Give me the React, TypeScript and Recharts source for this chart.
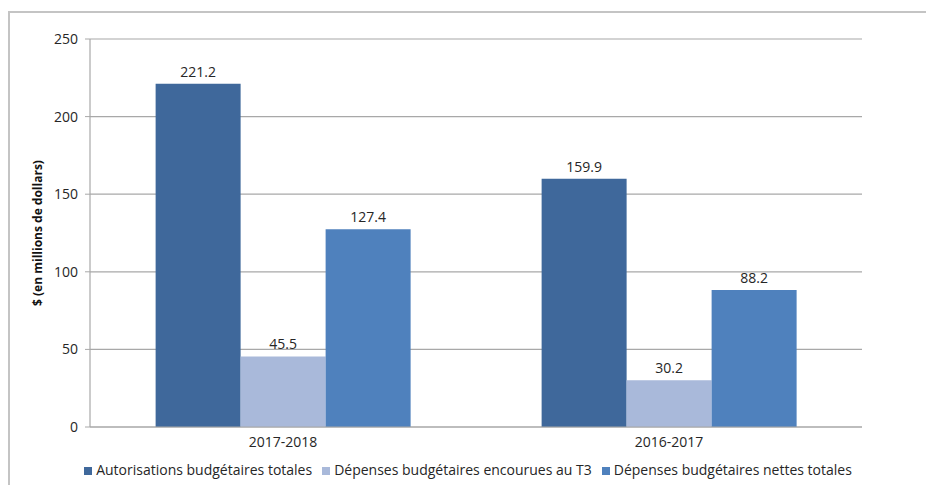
import React from 'react';
import { BarChart, Bar, XAxis, YAxis, CartesianGrid, Legend, LabelList } from 'recharts';

const categories = ['2017-2018', '2016-2017'];
const autorisations = [221.2, 159.9];
const depensesT3 = [45.5, 30.2];
const depensesNettes = [127.4, 88.2];
const yTicks = [0, 50, 100, 150, 200, 250];

const data = categories.map((c, i) => ({
  name: c,
  idx: i + 0.5,
  a: autorisations[i],
  b: depensesT3[i],
  c: depensesNettes[i],
}));

const FONT = 'Open Sans, Noto Sans, sans-serif';
const GRID = '#a8a8a8';
const TEXT = '#262626';
const FRAME = '#c4c4c4';

export default function App() {
  return (
    <div style={{ position: 'fixed', left: 0, top: 0, width: 926, height: 485, overflow: 'hidden', background: '#fff' }}>
      <div style={{ position: 'absolute', left: 8, top: 8 }}>
        <BarChart
          width={918}
          height={477}
          data={data}
          margin={{ top: 31, right: 64, left: 0, bottom: 6 }}
          barGap={0}
          barCategoryGap="17%"
          style={{ fontFamily: FONT }}
        >
          <CartesianGrid vertical={false} stroke={GRID} strokeWidth={1.2} />
          <XAxis
            dataKey="name"
            xAxisId="cat"
            tickLine={false}
            tickSize={6}
            axisLine={{ stroke: GRID, strokeWidth: 1.2 }}
            tick={{ fill: TEXT, fontSize: 14 }}
            tickMargin={4}
            height={33}
          />
          <XAxis
            xAxisId="bound"
            type="number"
            dataKey="idx"
            domain={[0, 2]}
            ticks={[0, 1, 2]}
            tick={false}
            tickSize={5}
            tickLine={{ stroke: GRID }}
            axisLine={false}
            height={0}
          />
          <YAxis
            width={82}
            domain={[0, 250]}
            ticks={yTicks}
            tickSize={5}
            tickMargin={7}
            tickLine={{ stroke: GRID }}
            axisLine={{ stroke: GRID, strokeWidth: 1.2 }}
            tick={{ fill: TEXT, fontSize: 14 }}
            label={{
              value: '$ (en millions de dollars)',
              angle: -90,
              position: 'insideLeft',
              offset: 30,
              style: { textAnchor: 'middle', fontWeight: 'bold', fontSize: 12, fill: '#111' },
            }}
          />
          <Legend
            verticalAlign="bottom"
            iconType="square"
            iconSize={8}
            wrapperStyle={{ fontSize: 14, color: TEXT, left: 38 }}
            formatter={(v: string) => <span style={{ color: TEXT }}>{v}</span>}
          />
          <Bar xAxisId="cat" dataKey="a" name="Autorisations budgétaires totales" fill="#3F689B" isAnimationActive={false}>
            <LabelList dataKey="a" position="top" offset={7} style={{ fill: TEXT, fontSize: 14 }} formatter={(v: number) => v.toFixed(1)} />
          </Bar>
          <Bar xAxisId="cat" dataKey="b" name="Dépenses budgétaires encourues au T3" fill="#A9B9DA" isAnimationActive={false}>
            <LabelList dataKey="b" position="top" offset={7} style={{ fill: TEXT, fontSize: 14 }} formatter={(v: number) => v.toFixed(1)} />
          </Bar>
          <Bar xAxisId="cat" dataKey="c" name="Dépenses budgétaires nettes totales" fill="#4F81BD" isAnimationActive={false}>
            <LabelList dataKey="c" position="top" offset={7} style={{ fill: TEXT, fontSize: 14 }} formatter={(v: number) => v.toFixed(1)} />
          </Bar>
        </BarChart>
      </div>
      <div style={{ position: 'absolute', left: 8, top: 11, width: 918, height: 2, background: FRAME }} />
      <div style={{ position: 'absolute', left: 8, top: 11, width: 2, height: 474, background: FRAME }} />
    </div>
  );
}
